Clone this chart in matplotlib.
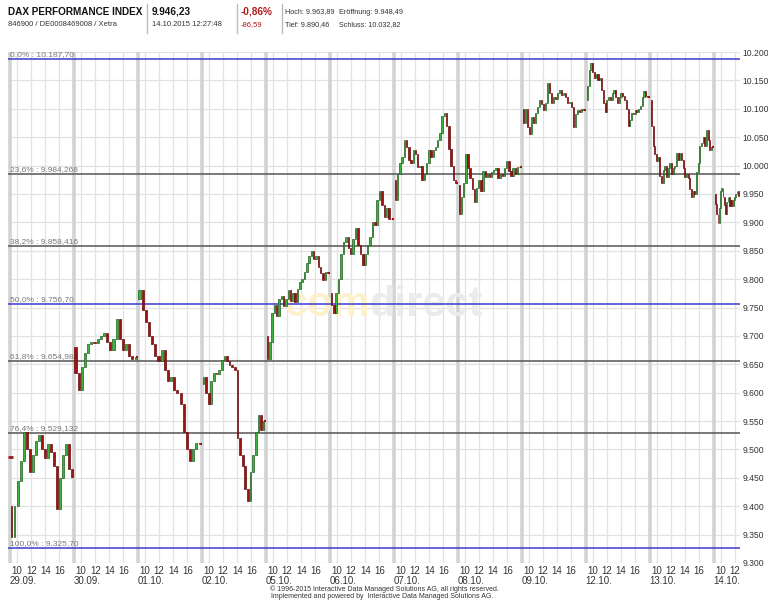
import numpy as np
import matplotlib.pyplot as plt

plt.rcParams['font.family'] = ['Liberation Sans', 'DejaVu Sans']

# trading days shown on the x axis
days = ['29.09.', '30.09.', '01.10.', '02.10.', '05.10.', '06.10.',
        '07.10.', '08.10.', '09.10.', '12.10.', '13.10.', '14.10.']
hours = [10, 12, 14, 16]

# intraday prices per day (first value = open, then closes)
prev_close = 9487
d29 = [9400, 9345, 9400, 9445, 9480, 9530, 9500, 9460, 9490, 9515, 9525, 9500,
       9485, 9510, 9495, 9470, 9395, 9450, 9490, 9510, 9465, 9452]
d30 = [9680, 9635, 9605, 9645, 9670, 9685, 9690, 9688, 9695, 9700, 9705, 9690,
       9675, 9695, 9730, 9695, 9675, 9685, 9665, 9660, 9662]
d01 = [9765, 9780, 9745, 9725, 9700, 9685, 9665, 9655, 9675, 9640, 9620, 9628,
       9605, 9600, 9580, 9530, 9500, 9480, 9500, 9512, 9510]
d02 = [9615, 9628, 9600, 9580, 9620, 9635, 9632, 9640, 9658, 9665, 9655, 9648,
       9645, 9640, 9520, 9490, 9470, 9430, 9410, 9460, 9490, 9530, 9560, 9535, 9550]
d05 = [9700, 9660, 9690, 9740, 9755, 9735, 9765, 9770, 9752, 9765, 9780, 9762,
       9775, 9760, 9782, 9795, 9800, 9812, 9828, 9840, 9850, 9835, 9840, 9822,
       9810, 9798, 9812, 9810]
d06 = [9775, 9755, 9740, 9775, 9800, 9845, 9865, 9875, 9855, 9845, 9870, 9890,
       9860, 9845, 9825, 9845, 9860, 9875, 9900, 9895, 9940, 9955, 9930, 9910,
       9925, 9905, 9905]
d07 = [9975, 9940, 9985, 10005, 10015, 10045, 10033, 10010, 10004, 10027, 10020,
       9997, 10000, 9975, 9985, 10004, 10027, 10015, 10027, 10033, 10045, 10058,
       10088, 10093, 10070, 10030, 10000, 9975, 9970]
d08 = [9965, 9915, 9945, 9970, 10020, 9995, 9978, 9958, 9935, 9960, 9975, 9955,
       9990, 9980, 9985, 9980, 9988, 9992, 9995, 9978, 9985, 9982, 9995, 10008,
       9990, 9982, 9995, 9985, 9998, 9997]
d09 = [10100, 10075, 10100, 10068, 10056, 10085, 10075, 10093, 10103, 10115,
       10108, 10098, 10110, 10145, 10128, 10110, 10120, 10118, 10128, 10133,
       10125, 10128, 10120, 10110, 10112, 10103, 10068, 10090, 10098, 10095,
       10100, 10098]
d12 = [10115, 10140, 10168, 10180, 10165, 10155, 10162, 10150, 10155, 10133,
       10110, 10095, 10115, 10120, 10115, 10128, 10133, 10120, 10110, 10120,
       10128, 10122, 10115, 10100, 10070, 10080, 10093, 10090, 10098, 10095,
       10100, 10105, 10120, 10132, 10122, 10121]
d13 = [10115, 10070, 10035, 10020, 10008, 10015, 9982, 9970, 9992, 10000, 9980,
       9995, 10005, 9985, 9995, 10000, 10022, 10010, 10022, 10010, 9995, 9980,
       9985, 9978, 9958, 9945, 9955, 9950, 9988, 10005, 10035, 10040, 10050,
       10035, 10063, 10045, 10028, 10033]
d14 = [9950, 9932, 9915, 9898, 9925, 9955, 9960, 9945, 9930, 9915, 9935, 9945,
       9928, 9940, 9928, 9940, 9945, 9950, 9955, 9946]
day_prices = [d29, d30, d01, d02, d05, d06, d07, d08, d09, d12, d13, d14]

# Fibonacci retracement levels
fib_pct = ['0,0%', '23,6%', '38,2%', '50,0%', '61,8%', '76,4%', '100,0%']
fib_txt = ['10.187,70', '9.984,268', '9.858,416', '9.756,70', '9.654,984',
           '9.529,132', '9.325,70']
fib_val = [10187.70, 9984.268, 9858.416, 9756.70, 9654.984, 9529.132, 9325.70]
fib_col = ['#3b3bd0', '#555555', '#555555', '#3b3bd0', '#555555', '#555555', '#3b3bd0']

day_len = 9.1      # hours per day slot (9:00 ... ~18:00)
last_end = 3.45    # 14.10. runs until 12:27

fig = plt.figure(figsize=(7.68, 6), dpi=100)
ax = fig.add_axes([8 / 768, 37 / 600, 732 / 768, 511 / 600])
ax.set_xlim(-0.3, 11 * day_len + 3.7)
ax.set_ylim(9300, 10200)

# grid
for v in range(9300, 10201, 50):
    ax.axhline(v, color='#e2e2e2', lw=0.9, zorder=0)
for d in range(len(days)):
    ax.axvline(d * day_len, color='#d3d3d3', lw=2.6, zorder=0)
    for h in hours:
        x = d * day_len + h - 9
        if x < ax.get_xlim()[1]:
            ax.axvline(x, color='#e2e2e2', lw=0.9, zorder=0)

# watermark
ax.text(0.494, 0.505, 'com', transform=ax.transAxes, ha='right', va='center',
        fontsize=30, fontweight='bold', color='#fdf1cc', zorder=0.5)
ax.text(0.494, 0.505, 'direct', transform=ax.transAxes, ha='left', va='center',
        fontsize=30, fontweight='bold', color='#ebebeb', zorder=0.5)

# fibonacci lines
for p, t, v, c in zip(fib_pct, fib_txt, fib_val, fib_col):
    ax.axhline(v, color=c, lw=1.1, zorder=2)
    ax.text(-0.05, v + 2, p + ' : ' + t, ha='left', va='bottom', fontsize=6,
            color='#7a7a7a', zorder=2)

# candles
up_col, up_edge = '#3cb43c', '#1f5f1f'
dn_col, dn_edge = '#a01212', '#6a0a0a'
ax.hlines(prev_close, -0.3, 0.35, color=dn_col, lw=2, zorder=3)
for d, vals in enumerate(day_prices):
    end = last_end if d == len(day_prices) - 1 else day_len - 0.35
    xs = d * day_len + np.linspace(0.2, end, len(vals) - 1)
    w = 0.65 * (xs[1] - xs[0])
    o = np.array(vals[:-1])
    c = np.array(vals[1:])
    up = c >= o
    ax.bar(xs[up], c[up] - o[up], bottom=o[up], width=w, color=up_col,
           edgecolor=up_edge, lw=0.5, zorder=3)
    ax.bar(xs[~up], c[~up] - o[~up], bottom=o[~up], width=w, color=dn_col,
           edgecolor=dn_edge, lw=0.5, zorder=3)
    if d < len(day_prices) - 1:
        ax.hlines(vals[-1], xs[-1], (d + 1) * day_len - 0.05, color=dn_col,
                  lw=1.5, zorder=3)

# axes / ticks
for s in ax.spines.values():
    s.set_visible(False)
ax.set_xticks([])
ax.yaxis.tick_right()
yt = list(range(9300, 10201, 50))
ax.set_yticks(yt)
ax.set_yticklabels([f'{v:,}'.replace(',', '.') for v in yt])
ax.tick_params(axis='y', length=0, pad=2, labelsize=6.2, labelcolor='#333333')
tr = ax.get_xaxis_transform()
for d, lab in enumerate(days):
    for h in hours:
        x = d * day_len + h - 9
        if x < ax.get_xlim()[1]:
            ax.text(x, -0.005, str(h), transform=tr, ha='center', va='top',
                    fontsize=7, color='#333333')
    ax.text(d * day_len - 0.1, -0.026, lab, transform=tr, ha='left', va='top',
            fontsize=7, color='#333333')

# header
fig.text(8 / 768, 1 - 12 / 600, 'DAX PERFORMANCE INDEX', fontsize=7.2,
         fontweight='bold', va='center', color='#111111')
fig.text(8 / 768, 1 - 25 / 600, '846900 / DE0008469008 / Xetra', fontsize=5.5,
         va='center', color='#333333')
fig.text(152 / 768, 1 - 12 / 600, '9.946,23', fontsize=7.2, fontweight='bold',
         va='center', color='#111111')
fig.text(152 / 768, 1 - 25 / 600, '14.10.2015 12:27:48', fontsize=5.5,
         va='center', color='#333333')
fig.text(241 / 768, 1 - 12 / 600, '-0,86%', fontsize=7.2, fontweight='bold',
         va='center', color='#b01818')
fig.text(241 / 768, 1 - 25 / 600, '-86,59', fontsize=5.5, va='center',
         color='#b01818')
fig.text(285 / 768, 1 - 12 / 600, 'Hoch: 9.963,89', fontsize=5.2, va='center',
         color='#333333')
fig.text(339 / 768, 1 - 12 / 600, 'Eröffnung: 9.948,49', fontsize=5.2,
         va='center', color='#333333')
fig.text(285 / 768, 1 - 25 / 600, 'Tief: 9.890,46', fontsize=5.2, va='center',
         color='#333333')
fig.text(339 / 768, 1 - 25 / 600, 'Schluss: 10.032,82', fontsize=5.2,
         va='center', color='#333333')
for xp in [147, 237, 282]:
    fig.add_artist(plt.Line2D([xp / 768, xp / 768], [1 - 4 / 600, 1 - 33 / 600],
                              color='#bbbbbb', lw=1))

# footer
fig.text(384 / 768, 1 - 589 / 600,
         '© 1996-2015 Interactive Data Managed Solutions AG, all rights reserved.',
         fontsize=5, ha='center', va='center', color='#333333')
fig.text(382 / 768, 1 - 597 / 600,
         'Implemented and powered by  Interactive Data Managed Solutions AG.',
         fontsize=5, ha='center', va='center', color='#333333')

fig.savefig('out.png', dpi=100)
